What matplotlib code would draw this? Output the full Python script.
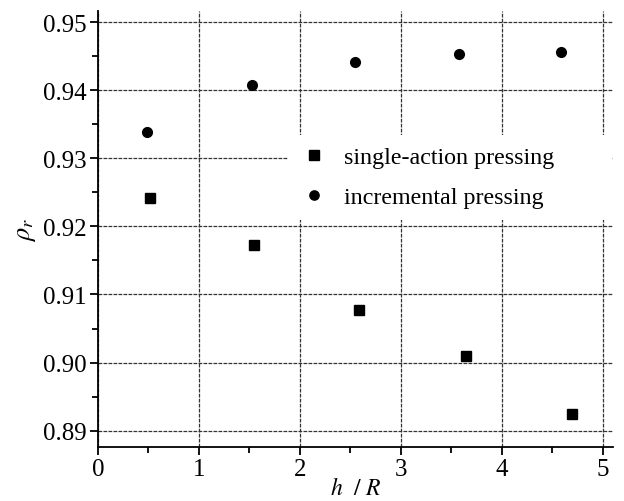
import matplotlib
matplotlib.use("Agg")
import matplotlib.pyplot as plt
from matplotlib.ticker import MultipleLocator

plt.rcParams['font.family'] = ['Liberation Serif', 'DejaVu Serif']
plt.rcParams['mathtext.fontset'] = 'stix'

# data
single_x = [0.52, 1.55, 2.59, 3.65, 4.70]
single_y = [0.9242, 0.9172, 0.9077, 0.9009, 0.8925]
incr_x = [0.49, 1.53, 2.55, 3.58, 4.59]
incr_y = [0.9339, 0.9408, 0.9442, 0.9453, 0.9456]
x_ticks = [0, 1, 2, 3, 4, 5]
y_ticks = [0.89, 0.90, 0.91, 0.92, 0.93, 0.94, 0.95]
y_ticklabels = ['0.89', '0.90', '0.91', '0.92', '0.93', '0.94', '0.95']

fig = plt.figure(figsize=(6.24, 5.02), dpi=100)
ax = fig.add_axes([0.157, 0.1076, 0.825, 0.868])

ax.plot(single_x, single_y, linestyle='none', marker='s', color='black',
        markersize=7, label='single-action pressing', zorder=3)
ax.plot(incr_x, incr_y, linestyle='none', marker='o', color='black',
        markersize=7, label='incremental pressing', zorder=3)

ax.set_xlim(0, 5.1)
ax.set_ylim(0.8876, 0.9516)
ax.set_xticks(x_ticks)
ax.set_yticks(y_ticks)
ax.set_yticklabels(y_ticklabels)
ax.xaxis.set_minor_locator(MultipleLocator(0.5))
ax.yaxis.set_minor_locator(MultipleLocator(0.005))

ax.grid(True, which='major', color='#333333', linestyle=(0, (3, 1)), linewidth=0.9)
ax.set_axisbelow(True)

for s in ['top', 'right']:
    ax.spines[s].set_visible(False)
for s in ['left', 'bottom']:
    ax.spines[s].set_linewidth(1.3)

ax.tick_params(which='major', direction='out', length=6, width=1.3, labelsize=18, pad=2)
ax.tick_params(which='minor', direction='out', length=4, width=1.3)

ax.set_xlabel(r'$h\ \ /\ R$', fontsize=17, labelpad=-2)
ax.set_ylabel(r'$\rho_r$', fontsize=19, labelpad=4)

leg = ax.legend(loc='upper left', bbox_to_anchor=(0.369, 0.527, 0.629, 0.19),
                mode='expand', borderaxespad=0, frameon=True, fancybox=False,
                facecolor='white', edgecolor='none', framealpha=1,
                fontsize=17.3, handletextpad=0.65, labelspacing=0.75, markerscale=0.95,
                handlelength=1.2, borderpad=0.5)

fig.savefig('out.png', dpi=100)
